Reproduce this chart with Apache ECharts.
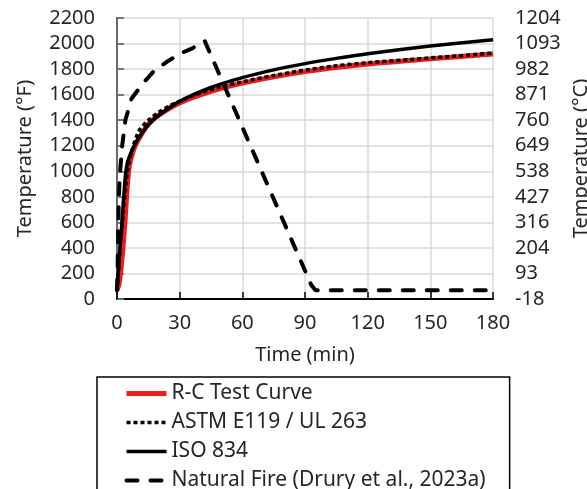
<!DOCTYPE html>
<html>
<head>
<meta charset="utf-8">
<script src="https://cdn.jsdelivr.net/npm/echarts@6.0.0/dist/echarts.min.js"></script>
<style>
  html, body { margin: 0; padding: 0; background: #fff; }
  #chart { width: 587px; height: 489px; }
</style>
</head>
<body>
<div id="chart"></div>
<script>
// values (time in min, temperature in °F)
var rcTime = [0, 1, 2, 3, 4, 5, 6, 8, 10, 15, 20, 30, 45, 60, 90, 120, 150, 180];
var rcTemp = [68, 120, 250, 430, 650, 900, 1050, 1170, 1240, 1370, 1440, 1535, 1625, 1690, 1780, 1840, 1880, 1918];

var astmTime = [0, 5, 10, 15, 20, 25, 30, 40, 50, 60, 75, 90, 105, 120, 140, 160, 180];
var astmTemp = [68, 1000, 1300, 1399, 1462, 1510, 1550, 1613, 1661, 1700, 1750, 1792, 1826, 1850, 1875, 1900, 1925];

var isoTime = [0, 2, 4, 5, 7, 10, 15, 20, 30, 45, 60, 75, 90, 105, 120, 150, 180];
var isoTemp = [68, 520, 960, 1069, 1158, 1253, 1361, 1438, 1547, 1656, 1733, 1794, 1843, 1884, 1920, 1980, 2030];

var fireTime = [0, 0.3, 0.6, 1, 1.5, 2.4, 4, 7, 13, 18, 24, 30, 36, 42, 93, 95, 180];
var fireTemp = [68, 250, 600, 850, 1000, 1190, 1400, 1570, 1700, 1790, 1858, 1920, 1962, 2020, 110, 68, 68];

var celsiusLabels = ['-18', '93', '204', '316', '427', '538', '649', '760', '871', '982', '1093', '1204'];

var seriesNames = ['R-C Test Curve', 'ASTM E119 / UL 263', 'ISO 834', 'Natural Fire (Drury et al., 2023a)'];

function pairs(t, v) {
  return t.map(function (x, i) { return [x, v[i]]; });
}

var font = '"Noto Sans", sans-serif';
var textColor = '#262626';
var red = '#f01c1c';

var styles = [
  { color: red, width: 5 },
  { color: '#000', width: 3.5, type: [4, 3] },
  { color: '#000', width: 3.5 },
  { color: '#000', width: 4, type: [11, 13], cap: 'round' }
];

var chart = echarts.init(document.getElementById('chart'));
chart.setOption({
  animation: false,
  textStyle: { fontFamily: font },
  grid: { left: 117, right: 94, top: 18, bottom: 190, outerBoundsMode: 'none' },
  legend: {
    orient: 'vertical',
    left: 97,
    top: 377,
    height: 140,
    itemWidth: 40,
    itemHeight: 14,
    itemGap: 8,
    padding: [6, 24, 0, 27],
    borderColor: '#000',
    borderWidth: 1.5,
    itemStyle: { opacity: 0 },
    textStyle: { fontSize: 21, color: textColor, fontFamily: font },
    data: seriesNames.map(function (n, i) {
      return { name: n, lineStyle: styles[i] };
    })
  },
  xAxis: [{
    type: 'value',
    min: 0,
    max: 180,
    interval: 30,
    name: 'Time (min)',
    nameLocation: 'middle',
    nameGap: 46,
    nameTextStyle: { fontSize: 20, color: textColor },
    axisLine: { lineStyle: { color: '#000', width: 2 } },
    axisTick: { inside: true, length: 7, lineStyle: { color: '#000', width: 1.5 } },
    axisLabel: { fontSize: 20, color: textColor, margin: 14 },
    splitLine: { show: true, lineStyle: { color: '#d9d9d9', width: 1.5 } }
  }, {
    type: 'value',
    position: 'top',
    min: 0,
    max: 180,
    interval: 30,
    axisLine: { show: true, lineStyle: { color: '#000', width: 1.5 } },
    axisTick: { show: false },
    axisLabel: { show: false },
    splitLine: { show: false }
  }],
  yAxis: [{
    type: 'value',
    min: 0,
    max: 2200,
    interval: 200,
    name: 'Temperature (°F)',
    nameLocation: 'middle',
    nameGap: 82,
    nameTextStyle: { fontSize: 20, color: textColor },
    axisLine: { show: true, lineStyle: { color: '#000', width: 2 } },
    axisTick: { show: true, inside: true, length: 7, lineStyle: { color: '#000', width: 1.5 } },
    axisLabel: {
      fontSize: 20, color: textColor, margin: 22,
      formatter: function (v) { return String(v); }
    },
    splitLine: { show: true, lineStyle: { color: '#d9d9d9', width: 1.5 } }
  }, {
    type: 'value',
    position: 'right',
    min: 0,
    max: 2200,
    interval: 200,
    name: 'Temperature (°C)',
    nameLocation: 'middle',
    nameGap: 74,
    nameTextStyle: { fontSize: 20, color: textColor },
    axisLine: { show: true, lineStyle: { color: '#8c8c8c', width: 1.5 } },
    axisTick: { show: true, inside: false, length: 7, lineStyle: { color: '#8c8c8c', width: 1.5 } },
    axisLabel: {
      fontSize: 20, color: textColor, margin: 22,
      formatter: function (v) { return celsiusLabels[Math.round(v / 200)]; }
    },
    splitLine: { show: false }
  }],
  series: [{
    name: seriesNames[0],
    type: 'line',
    symbol: 'none',
    smooth: 0.3,
    data: pairs(rcTime, rcTemp),
    lineStyle: styles[0],
    itemStyle: { color: red }
  }, {
    name: seriesNames[1],
    type: 'line',
    symbol: 'none',
    smooth: 0.3,
    data: pairs(astmTime, astmTemp),
    lineStyle: styles[1],
    itemStyle: { color: '#000' }
  }, {
    name: seriesNames[2],
    type: 'line',
    symbol: 'none',
    smooth: 0.3,
    data: pairs(isoTime, isoTemp),
    lineStyle: styles[2],
    itemStyle: { color: '#000' }
  }, {
    name: seriesNames[3],
    type: 'line',
    symbol: 'none',
    smooth: false,
    data: pairs(fireTime, fireTemp),
    lineStyle: styles[3],
    itemStyle: { color: '#000' }
  }]
});
</script>
</body>
</html>
